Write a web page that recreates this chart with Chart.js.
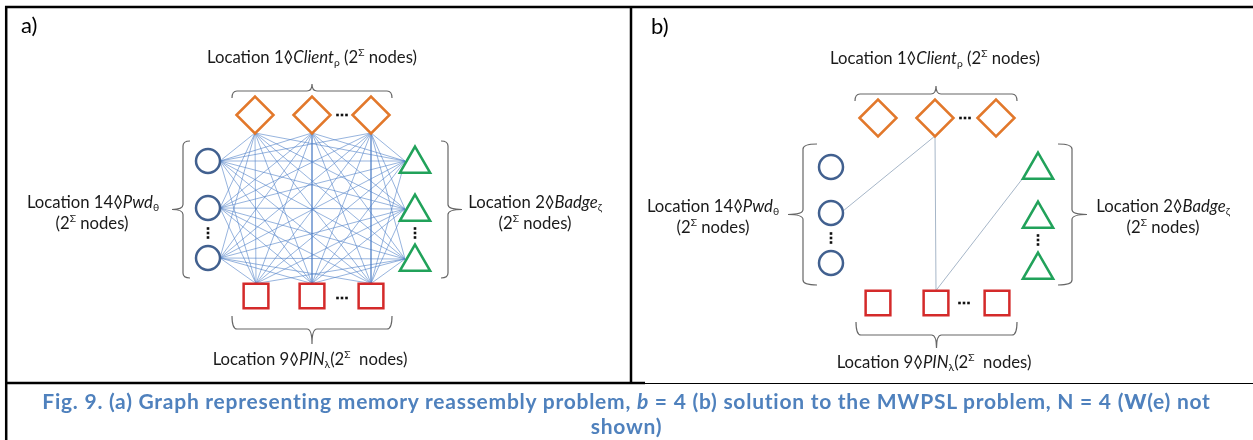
<!DOCTYPE html>
<html>
<head>
<meta charset="utf-8">
<script src="https://cdn.jsdelivr.net/npm/chart.js@4.4.1/dist/chart.umd.min.js"></script>
<style>
  body { margin: 0; background: #fff; width: 1253px; height: 440px; overflow: hidden; position: relative; }
  #c { position: absolute; left: 0; top: 0; }
  #caption { position: absolute; left: 0; top: 388px; width: 1253px; text-align: center; white-space: nowrap;
    color: #4f81bd; font-family: Lato, sans-serif; font-weight: bold; font-size: 21px; letter-spacing: 0.75px; line-height: 25px; }
  #caption b { font-weight: 900; }
</style>
</head>
<body>
<canvas id="c" width="1253" height="440"></canvas>
<div id="caption">Fig. 9. (a) Graph representing memory reassembly problem, <i>b</i> = 4 (b) solution to the MWPSL problem, N = 4 (<b>W</b>(e) not<br>shown)</div>
<script>
// node positions, panel a (graph of the memory reassembly problem)
var clientAX = [255, 312, 371], clientAY = [115, 115, 115];
var pwdAX = [208, 208, 208], pwdAY = [161, 208, 258];
var badgeAX = [415, 415, 415], badgeAY = [164, 212, 262];
var pinAX = [256, 312, 371], pinAY = [296, 296, 296];

// node positions, panel b (MWPSL solution)
var clientBX = [878, 935, 996], clientBY = [118, 118, 118];
var pwdBX = [831, 831, 831], pwdBY = [167, 213, 263];
var badgeBX = [1038, 1038, 1038], badgeBY = [170, 219, 270];
var pinBX = [878, 936, 997], pinBY = [303, 303, 303];

// panel a: every node joined to every node of the other locations
var groupsA = ['client', 'pwd', 'badge', 'pin'];
// panel b: the chosen path only
var solutionEdges = [['client', 1, 'pwd', 1], ['client', 1, 'pin', 1], ['pin', 1, 'badge', 0]];

var nodesA = { client: [clientAX, clientAY], pwd: [pwdAX, pwdAY], badge: [badgeAX, badgeAY], pin: [pinAX, pinAY] };
var nodesB = { client: [clientBX, clientBY], pwd: [pwdBX, pwdBY], badge: [badgeBX, badgeBY], pin: [pinBX, pinBY] };

// where the edges touch each shape
var portsA = { client: [0, 18], pwd: [12, 0], badge: [-10, -3], pin: [0, -12.5] };
var portsB = { client: [0, 18], pwd: [12, -2], badge: [-15, 8], pin: [0, -12.5] };

var shapes = {
  client: { style: 'rectRot', color: '#e2782b', r: 18.5 },
  pwd:    { style: 'circle',  color: '#41608f', r: 12 },
  badge:  { style: 'triangle', color: '#21a25a', r: 17.5 },
  pin:    { style: 'rect',    color: '#d42a2a', r: 17.5 }
};

function port(nodes, ports, g, i) {
  return { x: nodes[g][0][i] + ports[g][0], y: nodes[g][1][i] + ports[g][1] };
}

function edgeSet(p, q, color, width) {
  return { data: [p, q], showLine: true, borderColor: color, borderWidth: width,
           pointRadius: 0, pointHoverRadius: 0, fill: false, order: 1, clip: false };
}

function nodeSet(nodes, g) {
  var s = shapes[g];
  return {
    data: nodes[g][0].map(function (x, i) { return { x: x, y: nodes[g][1][i] }; }),
    pointStyle: s.style, pointRadius: s.r, pointHoverRadius: s.r,
    pointBorderColor: s.color, pointBackgroundColor: '#fff', pointBorderWidth: 2.5,
    showLine: false, order: 0, clip: false
  };
}

var datasets = [];
groupsA.forEach(function (g) { datasets.push(nodeSet(nodesA, g)); datasets.push(nodeSet(nodesB, g)); });

for (var a = 0; a < groupsA.length; a++) {
  for (var b = a + 1; b < groupsA.length; b++) {
    for (var i = 0; i < 3; i++) {
      for (var j = 0; j < 3; j++) {
        datasets.push(edgeSet(port(nodesA, portsA, groupsA[a], i), port(nodesA, portsA, groupsA[b], j), 'rgba(80,130,200,0.75)', 0.8));
      }
    }
  }
}
solutionEdges.forEach(function (e) {
  datasets.push(edgeSet(port(nodesB, portsB, e[0], e[1]), port(nodesB, portsB, e[2], e[3]), '#a6b6c8', 1));
});

// ---- annotation drawing (frame, braces, labels, ellipses) ----
var FAM = 'Lato, "DejaVu Sans", sans-serif';

function richText(ctx, runs, cx, cy, size) {
  function fontFor(r) {
    var small = r[1].indexOf('sub') >= 0 || r[1].indexOf('sup') >= 0;
    var it = r[1].indexOf('i') === 0 ? 'italic ' : '';
    return it + (small ? size * 0.62 : size) + 'px ' + FAM;
  }
  var total = 0;
  var w = runs.map(function (r) { ctx.font = fontFor(r); var m = ctx.measureText(r[0]).width; total += m; return m; });
  var x = cx - total / 2;
  ctx.textAlign = 'left';
  ctx.textBaseline = 'middle';
  runs.forEach(function (r, k) {
    ctx.font = fontFor(r);
    var dy = r[1].indexOf('sub') >= 0 ? size * 0.28 : (r[1].indexOf('sup') >= 0 ? -size * 0.3 : 0);
    ctx.fillText(r[0], x, cy + dy);
    x += w[k];
  });
}

// brace from p1 to p2: ends at the base, bar at h, tip at h + t
function brace(ctx, x1, y1, x2, y2, side, h, t) {
  var L = Math.hypot(x2 - x1, y2 - y1);
  var ux = (x2 - x1) / L, uy = (y2 - y1) / L;
  var nx = -uy * side, ny = ux * side;
  var r = Math.min(5, h);
  function P(u, v) { return [x1 + ux * u + nx * v, y1 + uy * u + ny * v]; }
  var m = L / 2;
  var pts = [
    ['M', P(0, 0)],
    ['Q', P(0, h), P(r, h)],
    ['L', P(m - r, h)],
    ['Q', P(m, h), P(m, h + t)],
    ['Q', P(m, h), P(m + r, h)],
    ['L', P(L - r, h)],
    ['Q', P(L, h), P(L, 0)]
  ];
  ctx.beginPath();
  pts.forEach(function (s) {
    if (s[0] === 'M') ctx.moveTo(s[1][0], s[1][1]);
    else if (s[0] === 'L') ctx.lineTo(s[1][0], s[1][1]);
    else ctx.quadraticCurveTo(s[1][0], s[1][1], s[2][0], s[2][1]);
  });
  ctx.stroke();
}

function dots(ctx, cx, cy, vertical) {
  for (var k = -1; k <= 1; k++) {
    var x = vertical ? cx : cx + k * 4.5;
    var y = vertical ? cy + k * 4.5 : cy;
    ctx.fillRect(x - 1.3, y - 1.3, 2.6, 2.6);
  }
}

var topRuns = [['Location 1◊', ''], ['Client', 'i'], ['ρ', 'sub'], [' (2', ''], ['Σ', 'sup'], [' nodes)', '']];
var pwdRuns = [['Location 14◊', ''], ['Pwd', 'i'], ['θ', 'sub']];
var badgeRuns = [['Location 2◊', ''], ['Badge', 'i'], ['ζ', 'sub']];
var nodesRuns = [['(2', ''], ['Σ', 'sup'], [' nodes)', '']];
var pinRuns = [['Location 9◊', ''], ['PIN', 'i'], ['λ', 'sub'], ['(2', ''], ['Σ', 'sup'], ['  nodes)', '']];

var annotate = {
  id: 'annotate',
  afterDatasetsDraw: function (chart) {
    var ctx = chart.ctx;
    var X = function (v) { return chart.scales.x.getPixelForValue(v); };
    var Y = function (v) { return chart.scales.y.getPixelForValue(v); };
    ctx.save();

    // frame
    ctx.strokeStyle = '#000';
    ctx.lineWidth = 2.5;
    ctx.beginPath();
    ctx.moveTo(X(5), Y(7)); ctx.lineTo(X(1253), Y(7));
    ctx.moveTo(X(6.2), Y(6)); ctx.lineTo(X(6.2), Y(440));
    ctx.moveTo(X(631), Y(6)); ctx.lineTo(X(631), Y(384));
    ctx.moveTo(X(5), Y(383)); ctx.lineTo(X(645), Y(383));
    ctx.stroke();
    ctx.lineWidth = 1.2;
    ctx.beginPath();
    ctx.moveTo(X(645), Y(383.5)); ctx.lineTo(X(1253), Y(383.5));
    ctx.stroke();

    // panel letters
    ctx.fillStyle = '#000';
    ctx.font = '22px ' + FAM;
    ctx.textAlign = 'left';
    ctx.textBaseline = 'alphabetic';
    ctx.fillText('a)', X(21), Y(33));
    ctx.fillText('b)', X(651), Y(34));

    // braces
    ctx.strokeStyle = '#666';
    ctx.lineWidth = 1.2;
    brace(ctx, X(232), Y(98), X(392), Y(98), -1, 7, 7);
    brace(ctx, X(232), Y(316), X(392), Y(316), 1, 13, 15);
    brace(ctx, X(190), Y(141), X(190), Y(278), 1, 7, 11);
    brace(ctx, X(441), Y(141), X(441), Y(278), -1, 7, 14);

    brace(ctx, X(855), Y(101), X(1017), Y(101), -1, 7, 8);
    brace(ctx, X(856), Y(322), X(1017), Y(322), 1, 13, 13);
    brace(ctx, X(817), Y(144), X(817), Y(285), 1, 14, 15);
    brace(ctx, X(1058), Y(144), X(1058), Y(285), -1, 14, 15);

    // labels
    ctx.fillStyle = '#1a1a1a';
    var fs = 16.7;
    richText(ctx, topRuns, X(312), Y(58), fs);
    richText(ctx, pwdRuns, X(93), Y(203), fs);
    richText(ctx, nodesRuns, X(92), Y(224), fs);
    richText(ctx, badgeRuns, X(535), Y(203), fs);
    richText(ctx, nodesRuns, X(535), Y(224), fs);
    richText(ctx, pinRuns, X(310), Y(360), fs);

    richText(ctx, topRuns, X(935), Y(59), fs);
    richText(ctx, pwdRuns, X(713), Y(207), fs);
    richText(ctx, nodesRuns, X(713), Y(228), fs);
    richText(ctx, badgeRuns, X(1163), Y(207), fs);
    richText(ctx, nodesRuns, X(1163), Y(228), fs);
    richText(ctx, pinRuns, X(934), Y(363), fs);

    // ellipses between nodes
    ctx.fillStyle = '#111';
    dots(ctx, X(342), Y(115), false);
    dots(ctx, X(342), Y(298), false);
    dots(ctx, X(208), Y(233), true);
    dots(ctx, X(415), Y(233), true);
    dots(ctx, X(965), Y(118), false);
    dots(ctx, X(964), Y(303), false);
    dots(ctx, X(831), Y(238), true);
    dots(ctx, X(1038), Y(240), true);

    ctx.restore();
  }
};

var chart = new Chart(document.getElementById('c'), {
  type: 'scatter',
  data: { datasets: datasets },
  options: {
    responsive: false,
    devicePixelRatio: 1,
    animation: false,
    events: [],
    layout: { padding: 0, autoPadding: false },
    plugins: { legend: { display: false }, tooltip: { enabled: false } },
    scales: {
      x: { type: 'linear', min: 0, max: 1253, display: false },
      y: { type: 'linear', min: 0, max: 440, reverse: true, display: false }
    }
  },
  plugins: [annotate]
});
</script>
</body>
</html>
